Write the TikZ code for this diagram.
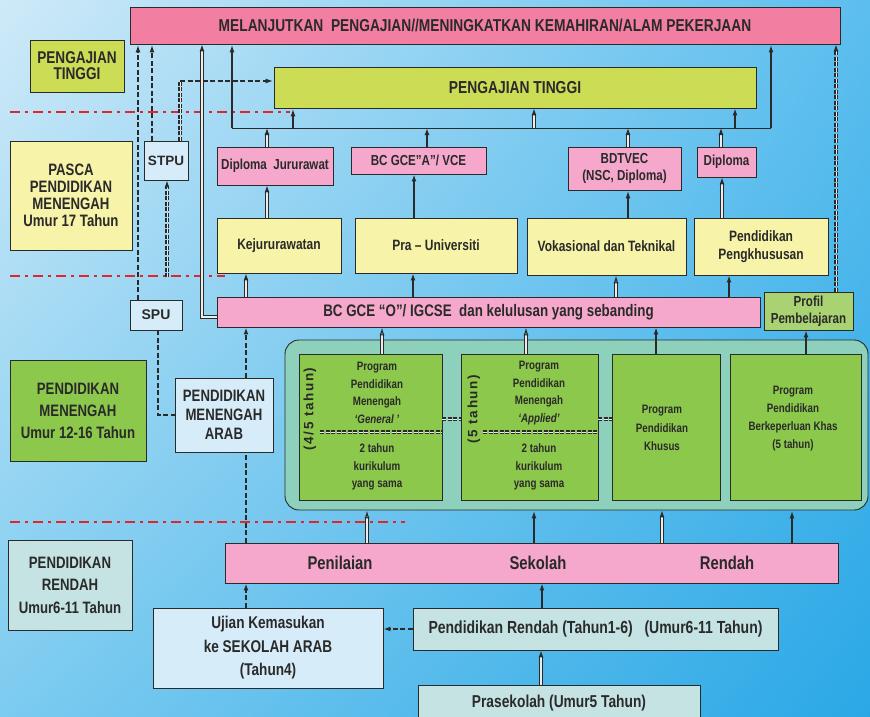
\documentclass[tikz,border=0pt]{standalone}
\usepackage{fontspec}
\setmainfont{Liberation Sans}[FakeStretch=0.8]
\newfontfamily\widefont{Liberation Sans}
\usetikzlibrary{arrows.meta,shadings}

\definecolor{toppink}{HTML}{F27FA2}
\definecolor{boxpink}{HTML}{F5A8CB}
\definecolor{lime}{HTML}{CCDC55}
\definecolor{paleyel}{HTML}{F7F3A8}
\definecolor{paleblue}{HTML}{D6ECF8}
\definecolor{paleteal}{HTML}{C5E3E3}
\definecolor{leaf}{HTML}{8CC84B}
\definecolor{profgreen}{HTML}{A9D373}
\definecolor{poolteal}{HTML}{8DD0BB}
\definecolor{ink}{HTML}{2A2A2A}
\definecolor{dashred}{HTML}{E0262B}
\definecolor{skyA}{HTML}{CFEAF8}
\definecolor{skyB}{HTML}{5CBEEE}
\definecolor{skyC}{HTML}{7CCBF0}
\definecolor{skyD}{HTML}{2AA8E6}

\tikzset{
  box/.style={draw=ink, line width=0.9pt, inner sep=1pt, align=center, text=ink},
  fnt/.style 2 args={font=\bfseries\fontsize{#1}{#2}\selectfont},
  tipf/.style={-{Latex[length=7pt,width=5pt]}},
  tipo/.style={-{Latex[open,length=8pt,width=5pt]}},
  dbl/.style={draw=ink, double=white!85!gray, double distance=1.1pt, line width=1.1pt},
  thk/.style={draw=ink, line width=1.6pt},
  dsh/.style={draw=ink, line width=1.7pt, dash pattern=on 5pt off 2.5pt},
  hdash/.style={draw=ink, double=white!85!gray, double distance=1pt, line width=1.1pt, dash pattern=on 4pt off 1.5pt},
  redline/.style={draw=dashred, line width=2pt, dash pattern=on 10pt off 5pt on 3pt off 5pt}
}

\begin{document}
\begin{tikzpicture}[x=1pt, y=-1pt]
  \useasboundingbox (0,0) rectangle (870,717);
  \shade[upper left=skyA, upper right=skyB, lower left=skyC, lower right=skyD]
        (0,0) rectangle (870,717);

  % level borders
  \draw[redline] (10,112) -- (290,112);
  \draw[redline] (10,276) -- (225,276);
  \draw[redline] (10,522) -- (405,522);

  % left column
  \node[box, fill=lime, minimum width=94, minimum height=52, fnt={17}{16}] (ptlabel) at (77,66) {PENGAJIAN\\TINGGI};
  \node[box, fill=paleyel, minimum width=122, minimum height=109, fnt={16.5}{17}] (pasca) at (71,195.5) {PASCA\\PENDIDIKAN\\MENENGAH\\Umur 17 Tahun};
  \node[box, fill=leaf, minimum width=136, minimum height=101, fnt={16.5}{22}] (pmlabel) at (78,410.5) {PENDIDIKAN\\MENENGAH\\Umur 12-16 Tahun};
  \node[box, fill=paleteal, minimum width=124, minimum height=90, fnt={16.5}{22.5}] (prlabel) at (70,585) {PENDIDIKAN\\RENDAH\\Umur6-11 Tahun};

  \node[box, fill=toppink, minimum width=710, minimum height=37, fnt={17.2}{20}] (lanjut) at (485,25.5) {MELANJUTKAN\ \ PENGAJIAN//MENINGKATKAN KEMAHIRAN/ALAM PEKERJAAN};
  \node[box, fill=lime, minimum width=482, minimum height=41, fnt={17.3}{20}] (tinggi) at (515,87.5) {PENGAJIAN TINGGI};

  \node[box, fill=paleblue, minimum width=44, minimum height=39, font=\widefont\bfseries\fontsize{13.5}{16}\selectfont] (stpu) at (166,160.5) {STPU};
  \node[box, fill=paleblue, minimum width=52, minimum height=30, font=\widefont\bfseries\fontsize{14}{16}\selectfont] (spu) at (156,315) {SPU};
  \node[box, fill=paleblue, minimum width=98, minimum height=74, fnt={16.5}{19}] (arab) at (224,415) {PENDIDIKAN\\MENENGAH\\ARAB};

  % certificates
  \node[box, fill=boxpink, minimum width=116, minimum height=38, fnt={14.5}{17}] (dipj) at (275,166) {Diploma\ \ Jururawat};
  \node[box, fill=boxpink, minimum width=135, minimum height=27, fnt={14.5}{17}] (gcea) at (418.5,160.5) {BC GCE”A”/ VCE};
  \node[box, fill=boxpink, minimum width=113, minimum height=43, fnt={14.5}{17}] (bdtvec) at (624.5,168.5) {BDTVEC\\(NSC, Diploma)};
  \node[box, fill=boxpink, minimum width=59, minimum height=30, fnt={14.5}{17}] (diploma) at (726.5,162) {Diploma};

  % post secondary
  \node[box, fill=paleyel, minimum width=124, minimum height=55, fnt={15}{18}] (kejur) at (279,245.5) {Kejururawatan};
  \node[box, fill=paleyel, minimum width=162, minimum height=55, fnt={15}{18}] (prau) at (436,245.5) {Pra – Universiti};
  \node[box, fill=paleyel, minimum width=159, minimum height=57, fnt={15}{18}] (vokas) at (606.5,246.5) {Vokasional dan Teknikal};
  \node[box, fill=paleyel, minimum width=134, minimum height=57, fnt={15}{18}] (pengk) at (761,246.5) {Pendidikan\\Pengkhususan};

  \node[box, fill=boxpink, minimum width=543, minimum height=30, fnt={16.7}{19}] (gceo) at (488.5,312) {BC GCE “O”/ IGCSE\ \ dan kelulusan yang sebanding};
  \node[box, fill=profgreen, minimum width=89, minimum height=38, fnt={14.5}{17}] (profil) at (808.5,311) {Profil\\Pembelajaran};

  % secondary programmes
  \node[box, fill=poolteal, rounded corners=14pt, minimum width=583, minimum height=170] (prog) at (576.5,425) {};
  \node[box, fill=leaf, minimum width=143, minimum height=146] (general) at (370.5,427) {};
  \node[box, fill=leaf, minimum width=137, minimum height=146] (applied) at (529.5,427) {};
  \node[box, fill=leaf, minimum width=108, minimum height=146] (khusus) at (666,427) {};
  \node[box, fill=leaf, minimum width=131, minimum height=146] (khas) at (795.5,427) {};

  \node[align=center, text=ink, fnt={12.2}{17.5}] (gentop) at (377,393) {Program\\Pendidikan\\Menengah\\\textit{‘General ’}};
  \node[align=center, text=ink, fnt={12.2}{17.5}] (genbot) at (377,467) {2 tahun\\kurikulum\\yang sama};
  \node[align=center, text=ink, fnt={12.2}{17.5}] (apptop) at (539,393) {Program\\Pendidikan\\Menengah\\\textit{‘Applied’}};
  \node[align=center, text=ink, fnt={12.2}{17.5}] (appbot) at (539,467) {2 tahun\\kurikulum\\yang sama};
  \node[align=center, text=ink, fnt={12.2}{18.5}] (khustxt) at (662,428) {Program\\Pendidikan\\Khusus};
  \node[align=center, text=ink, fnt={12.2}{18}] (khastxt) at (793,419) {Program\\Pendidikan\\Berkeperluan Khas\\(5 tahun)};
  \node[rotate=90, text=ink, font=\widefont\bfseries\fontsize{13.5}{13.5}\selectfont\addfontfeature{LetterSpace=12}] (gentag) at (310,409) {(4/5 tahun)};
  \node[rotate=90, text=ink, font=\widefont\bfseries\fontsize{13.5}{13.5}\selectfont\addfontfeature{LetterSpace=12}] (apptag) at (474,409) {(5 tahun)};
  \draw[hdash] (320,432) -- (general.east |- 0,432);
  \draw[hdash] (483,432) -- (applied.east |- 0,432);
  \draw[hdash] (general.east |- 0,419) -- (applied.west |- 0,419);
  \draw[hdash] (applied.east |- 0,419) -- (khusus.west |- 0,419);

  % primary
  \node[box, fill=boxpink, minimum width=613, minimum height=40, fnt={18.5}{20}] (nilai) at (531.5,563) {};
  \node[text=ink, fnt={18.5}{20}] at (340,563) {Penilaian};
  \node[text=ink, fnt={18.5}{20}] at (538,563) {Sekolah};
  \node[text=ink, fnt={18.5}{20}] at (727,563) {Rendah};
  \node[box, fill=paleblue, minimum width=230, minimum height=80, fnt={17}{23.5}] (ujian) at (268,648) {Ujian Kemasukan\\ke SEKOLAH ARAB\\(Tahun4)};
  \node[box, fill=paleteal, minimum width=365, minimum height=42, fnt={17.5}{20}] (rendah) at (595.5,629) {Pendidikan Rendah (Tahun1-6)\ \ \ (Umur6-11 Tahun)};
  \node[box, fill=paleteal, minimum width=282, minimum height=36, fnt={17.2}{20}] (prasek) at (559,703) {Prasekolah (Umur5 Tahun)};

  % paths up to the top box
  \draw[dsh, tipo] (spu.north -| 138,0) -- (lanjut.south -| 138,0);
  \draw[dsh, tipo] (stpu.north -| 152,0) -- (lanjut.south -| 152,0);
  \draw[dbl, tipf] ([yshift=-5pt]gceo.west) -| (lanjut.south -| 202,0);
  \draw[hdash, tipf] (profil.north -| 836,0) -- (lanjut.south -| 836,0);

  \coordinate (brl) at (232,128);
  \coordinate (brr) at (771,128);
  \draw[draw=ink, line width=1pt] (brl) -- (brr);
  \draw[thk, tipo] (brl) -- (brl |- lanjut.south);
  \draw[thk, tipo] (brr) -- (brr |- lanjut.south);
  \draw[thk, tipo] (brl -| 293,0) -- (tinggi.south -| 293,0);
  \draw[dbl, tipf] (brl -| 534,0) -- (tinggi.south -| 534,0);
  \draw[thk, tipf] (brl -| 735,0) -- (tinggi.south -| 735,0);

  % STPU
  \coordinate (stpuin) at (167,277);
  \coordinate (elb) at (180,81);
  \draw[hdash, tipf] (stpuin) -- (stpu.south -| stpuin);
  \draw[hdash] (stpu.north -| elb) -- (elb);
  \draw[dsh, tipo] (elb) -- (tinggi.west |- elb);

  % certificates to the bracket
  \draw[dbl, tipf] (dipj.north -| 267,0) -- (brl -| 267,0);
  \draw[thk, tipf] (gcea.north -| 427,0) -- (brl -| 427,0);
  \draw[dbl, tipf] (bdtvec.north -| 628,0) -- (brl -| 628,0);
  \draw[dbl, tipf] (diploma.north -| 721,0) -- (brl -| 721,0);

  % post secondary to certificates
  \draw[dbl, tipf] (kejur.north -| 267,0) -- (dipj.south -| 267,0);
  \draw[thk, tipf] (prau.north -| 414,0) -- (gcea.south -| 414,0);
  \draw[thk, tipo] (vokas.north -| 628,0) -- (bdtvec.south -| 628,0);
  \draw[dbl, tipf] (pengk.north -| 722,0) -- (diploma.south -| 722,0);

  % O level to post secondary
  \draw[dbl, tipf] (gceo.north -| 246,0) -- (kejur.south -| 246,0);
  \draw[thk, tipf] (gceo.north -| 413,0) -- (prau.south -| 413,0);
  \draw[dbl, tipo] (gceo.north -| 616,0) -- (vokas.south -| 616,0);
  \draw[thk, tipf] (gceo.north -| 729,0) -- (pengk.south -| 729,0);

  % programmes to O level
  \draw[dbl, tipo] (general.north -| 382,0) -- (gceo.south -| 382,0);
  \draw[dbl, tipo] (applied.north -| 526,0) -- (gceo.south -| 526,0);
  \draw[thk, tipf] (khusus.north -| 656,0) -- (gceo.south -| 656,0);
  \draw[thk, tipf] (khas.north -| 806,0) -- (profil.south -| 806,0);

  % Arab stream
  \draw[dsh] (spu.south -| 158,0) |- (arab.west);
  \draw[dsh, tipf] (arab.north -| 246,0) -- (gceo.south -| 246,0);
  \draw[dsh] (nilai.north -| 246,0) -- (arab.south -| 246,0);
  \draw[dsh, tipf] (ujian.north -| 246,0) -- (nilai.south -| 246,0);
  \draw[dsh, tipf] (rendah.west) -- (ujian.east |- rendah.west);

  % primary up
  \draw[dbl, tipo] (nilai.north -| 367,0) -- (prog.south -| 367,0);
  \draw[thk, tipo] (nilai.north -| 534,0) -- (prog.south -| 534,0);
  \draw[dbl, tipf] (nilai.north -| 662,0) -- (prog.south -| 662,0);
  \draw[thk, tipo] (nilai.north -| 792,0) -- (prog.south -| 792,0);
  \draw[thk, tipf] (rendah.north -| 542,0) -- (nilai.south -| 542,0);
  \draw[dbl, tipf] (prasek.north -| 541,0) -- (rendah.south -| 541,0);
\end{tikzpicture}
\end{document}
